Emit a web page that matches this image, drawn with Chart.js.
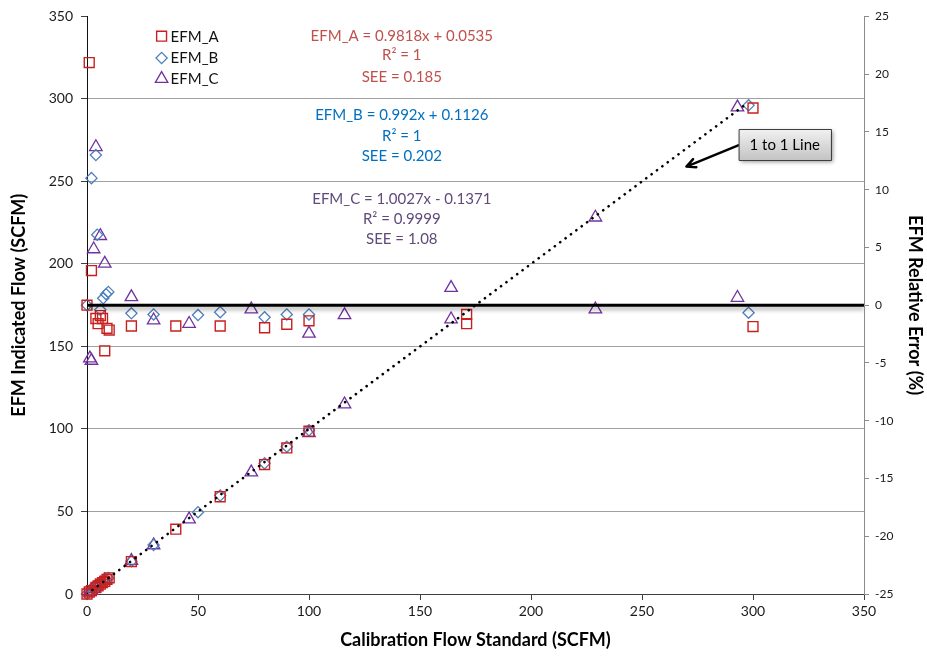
<!DOCTYPE html>
<html>
<head>
<meta charset="utf-8">
<script src="https://cdn.jsdelivr.net/npm/chart.js@4.4.1/dist/chart.umd.min.js"></script>
<style>
  html, body { margin: 0; padding: 0; background: #ffffff; }
  canvas { display: block; }
</style>
</head>
<body>
<canvas id="chart" width="927" height="656"></canvas>
<script>
// ---- Test data: calibration standard (SCFM), meter reading (SCFM), relative error (%) ----
const calA  = [0, 1, 2, 4, 5, 6, 7, 8, 9, 10, 20, 40, 60, 80, 90, 100, 171, 300];
const flowA = [0, 1.21, 2.06, 3.95, 4.92, 5.95, 6.92, 7.68, 8.82, 9.78, 19.64, 39.28, 58.92, 78.44, 88.52, 98.65, 169.4, 294.5];
const errA  = [0, 21.0, 3.0, -1.15, -1.6, -0.9, -1.15, -3.95, -2.0, -2.15, -1.8, -1.8, -1.8, -1.95, -1.65, -1.35, -1.6, -1.85];

const calB  = [0, 2, 4, 4.6, 6, 7.3, 8.6, 9.6, 20, 30, 50, 60, 80, 90, 100, 298];
const flowB = [0, 2.22, 4.52, 4.88, 5.98, 7.34, 8.68, 9.71, 19.86, 29.76, 49.58, 59.64, 79.16, 89.28, 99.2, 296.1];
const errB  = [0, 11.0, 13.0, 6.1, -0.4, 0.6, 0.95, 1.15, -0.7, -0.8, -0.85, -0.6, -1.05, -0.8, -0.8, -0.65];

const calC  = [1.3, 2, 3, 4, 6, 8, 20, 30, 46, 74, 100, 116, 164, 229, 293];
const flowC = [1.24, 1.9, 3.15, 4.55, 6.36, 8.29, 20.14, 29.61, 45.26, 73.74, 97.55, 115.0, 166.5, 228.2, 294.9];
const errC  = [-4.6, -4.8, 4.85, 13.7, 6.0, 3.6, 0.7, -1.3, -1.6, -0.35, -2.45, -0.85, 1.5, -0.35, 0.65];

// Reference lines
const oneToOneX = [0, 297];
const zeroErrX  = [0, 350];

// Axis ticks
const flowTicks = [0, 50, 100, 150, 200, 250, 300, 350];
const errTicks  = [-25, -20, -15, -10, -5, 0, 5, 10, 15, 20, 25];

// Regression summaries shown on the plot
const fitText = {
  A: ['EFM_A = 0.9818x + 0.0535', 'R\u00B2 = 1', 'SEE = 0.185'],
  B: ['EFM_B = 0.992x + 0.1126', 'R\u00B2 = 1', 'SEE = 0.202'],
  C: ['EFM_C = 1.0027x - 0.1371', 'R\u00B2 = 0.9999', 'SEE = 1.08']
};
const seriesNames = ['EFM_A', 'EFM_B', 'EFM_C'];

const FONT = 'Lato, "Open Sans", "DejaVu Sans", sans-serif';
const RED = '#C8201E', BLUE = '#4F81BD', PURPLE = '#7030A0';

const pts = (xs, ys) => xs.map((x, i) => ({ x: x, y: ys[i] }));

const styleA = { pointStyle: 'rect', pointRadius: 7, borderColor: RED, pointBorderWidth: 1.4 };
const styleB = { pointStyle: 'rectRot', pointRadius: 5.6, borderColor: BLUE, pointBorderWidth: 1.3 };
const styleC = { pointStyle: 'triangle', pointRadius: 7.2, borderColor: PURPLE, pointBorderWidth: 1.3 };

function markerSet(label, data, axis, st) {
  return Object.assign({
    label: label, data: data, yAxisID: axis, showLine: false,
    backgroundColor: 'rgba(0,0,0,0)', pointBackgroundColor: 'rgba(0,0,0,0)',
    pointBorderColor: st.borderColor, pointHoverRadius: st.pointRadius, clip: false
  }, st);
}

const datasets = [
  { label: '1 to 1', data: pts(oneToOneX, oneToOneX), yAxisID: 'y', showLine: true,
    borderColor: '#000', borderWidth: 2.6, borderDash: [0.1, 6.6], borderCapStyle: 'round',
    pointRadius: 0, fill: false },
  { label: 'zero', data: pts(zeroErrX, [0, 0]), yAxisID: 'y2', showLine: true,
    borderColor: '#000', borderWidth: 3, pointRadius: 0, fill: false, shadow: true },
  markerSet('EFM_A', pts(calA, flowA), 'y', styleA),
  markerSet('EFM_B', pts(calB, flowB), 'y', styleB),
  markerSet('EFM_C', pts(calC, flowC), 'y', styleC),
  markerSet('EFM_A err', pts(calA, errA), 'y2', styleA),
  markerSet('EFM_B err', pts(calB, errB), 'y2', styleB),
  markerSet('EFM_C err', pts(calC, errC), 'y2', styleC)
];

// Callout ("1 to 1 Line") box and arrow, in data units of the flow axes
const callout = { x0: 293.6, x1: 335.0, yTop: 282.0, yBot: 263.0, arrowFrom: [293.6, 272.0], arrowTo: [270.0, 259.0] };

const overlay = {
  id: 'overlay',
  beforeDatasetDraw(chart, args) {
    if (chart.data.datasets[args.index].shadow) {
      const c = chart.ctx;
      c.save();
      c.shadowColor = 'rgba(0,0,0,0.35)';
      c.shadowBlur = 4;
      c.shadowOffsetY = 3;
    }
  },
  afterDatasetDraw(chart, args) {
    if (chart.data.datasets[args.index].shadow) chart.ctx.restore();
  },
  afterDatasetsDraw(chart) {
    const c = chart.ctx, xs = chart.scales.x, ys = chart.scales.y;
    c.save();

    // Legend
    const legStyles = [styleA, styleB, styleC];
    const legY = [338.0, 324.8, 312.2];
    c.font = '15px ' + FONT;
    c.textBaseline = 'middle';
    c.textAlign = 'left';
    legStyles.forEach((st, i) => {
      const px = xs.getPixelForValue(33.6), py = ys.getPixelForValue(legY[i]);
      c.strokeStyle = st.borderColor;
      c.fillStyle = 'rgba(0,0,0,0)';
      c.lineWidth = st.pointBorderWidth;
      Chart.helpers.drawPoint(c, { pointStyle: st.pointStyle, radius: st.pointRadius, rotation: 0, borderWidth: st.pointBorderWidth }, px, py);
      c.fillStyle = '#111';
      c.fillText(seriesNames[i], px + 9, py + 0.5);
    });

    // Fit equations
    c.textAlign = 'center';
    c.font = '15px ' + FONT;
    const blocks = [
      { lines: fitText.A, color: '#C0504D', y: [338.2, 326.5, 313.3] },
      { lines: fitText.B, color: '#0070C0', y: [290.1, 277.6, 265.3] },
      { lines: fitText.C, color: '#604A7B', y: [239.1, 226.9, 214.8] }
    ];
    const cx = xs.getPixelForValue(141.8);
    blocks.forEach(b => {
      c.fillStyle = b.color;
      b.lines.forEach((t, i) => c.fillText(t, cx, ys.getPixelForValue(b.y[i])));
    });

    // Callout arrow
    const ax0 = xs.getPixelForValue(callout.arrowFrom[0]), ay0 = ys.getPixelForValue(callout.arrowFrom[1]);
    const ax1 = xs.getPixelForValue(callout.arrowTo[0]),   ay1 = ys.getPixelForValue(callout.arrowTo[1]);
    const ang = Math.atan2(ay1 - ay0, ax1 - ax0);
    c.strokeStyle = '#000';
    c.lineWidth = 2.4;
    c.lineCap = 'round';
    c.lineJoin = 'round';
    c.beginPath();
    c.moveTo(ax0, ay0);
    c.lineTo(ax1, ay1);
    c.moveTo(ax1 + 10 * Math.cos(ang + Math.PI - 0.45), ay1 + 10 * Math.sin(ang + Math.PI - 0.45));
    c.lineTo(ax1, ay1);
    c.lineTo(ax1 + 10 * Math.cos(ang + Math.PI + 0.45), ay1 + 10 * Math.sin(ang + Math.PI + 0.45));
    c.stroke();

    // Callout box
    const bx0 = xs.getPixelForValue(callout.x0), bx1 = xs.getPixelForValue(callout.x1);
    const by0 = ys.getPixelForValue(callout.yTop), by1 = ys.getPixelForValue(callout.yBot);
    c.save();
    c.shadowColor = 'rgba(0,0,0,0.4)';
    c.shadowBlur = 4;
    c.shadowOffsetX = 2;
    c.shadowOffsetY = 2;
    const g = c.createLinearGradient(0, by0, 0, by1);
    g.addColorStop(0, '#F2F2F2');
    g.addColorStop(1, '#C4C4C4');
    c.fillStyle = g;
    c.fillRect(bx0, by0, bx1 - bx0, by1 - by0);
    c.restore();
    c.strokeStyle = '#3F3F3F';
    c.lineWidth = 1;
    c.strokeRect(Math.round(bx0) + 0.5, Math.round(by0) + 0.5, Math.round(bx1 - bx0), Math.round(by1 - by0));
    c.fillStyle = '#000';
    c.font = '15px ' + FONT;
    c.textAlign = 'center';
    c.textBaseline = 'middle';
    c.fillText('1 to 1 Line', (bx0 + bx1) / 2, (by0 + by1) / 2 + 0.5);

    c.restore();
  }
};

new Chart(document.getElementById('chart'), {
  type: 'scatter',
  data: { datasets: datasets },
  plugins: [overlay],
  options: {
    responsive: false,
    animation: false,
    events: [],
    layout: { padding: { top: 16, left: 0, right: 0, bottom: 0 } },
    plugins: { legend: { display: false }, tooltip: { enabled: false } },
    scales: {
      x: {
        type: 'linear', position: 'bottom', min: 0, max: 350,
        afterBuildTicks: s => { s.ticks = flowTicks.map(v => ({ value: v })); },
        afterFit: s => { s.height = 62; },
        ticks: { color: '#1a1a1a', font: { family: FONT, size: 14 }, padding: 3, maxRotation: 0 },
        grid: { drawOnChartArea: false, drawTicks: true, tickLength: 6, tickColor: '#404040' },
        border: { display: true, color: '#404040', width: 1 },
        title: { display: true, text: 'Calibration Flow Standard (SCFM)', color: '#000',
                 font: { family: FONT, size: 18, weight: 'bold' }, padding: { top: 0, bottom: 5 } }
      },
      y: {
        type: 'linear', position: 'left', min: 0, max: 350,
        afterBuildTicks: s => { s.ticks = flowTicks.map(v => ({ value: v })); },
        afterFit: s => { s.width = 87; },
        ticks: { color: '#1a1a1a', font: { family: FONT, size: 14 }, padding: 8 },
        grid: {
          drawOnChartArea: true, drawTicks: true, tickLength: 6, tickColor: '#404040', lineWidth: 1,
          color: ctx => (ctx.tick && (ctx.tick.value === 350 || ctx.tick.value === 0)) ? 'rgba(0,0,0,0)' : '#A0A0A0'
        },
        border: { display: true, color: '#111', width: 1 },
        title: { display: true, text: 'EFM Indicated Flow (SCFM)', color: '#000',
                 font: { family: FONT, size: 18, weight: 'bold' }, padding: { top: 8, bottom: 0 } }
      },
      y2: {
        type: 'linear', position: 'right', min: -25, max: 25,
        afterBuildTicks: s => { s.ticks = errTicks.map(v => ({ value: v })); },
        afterFit: s => { s.width = 63; },
        ticks: { color: '#1a1a1a', font: { family: FONT, size: 12 }, padding: 6 },
        grid: { drawOnChartArea: false, drawTicks: true, tickLength: 5, tickColor: '#8C8C8C' },
        border: { display: true, color: '#8C8C8C', width: 1 },
        title: { display: true, text: 'EFM Relative Error (%)', color: '#000',
                 font: { family: FONT, size: 18, weight: 'bold' }, padding: { top: 1, bottom: 0 } }
      }
    }
  }
});
</script>
</body>
</html>
